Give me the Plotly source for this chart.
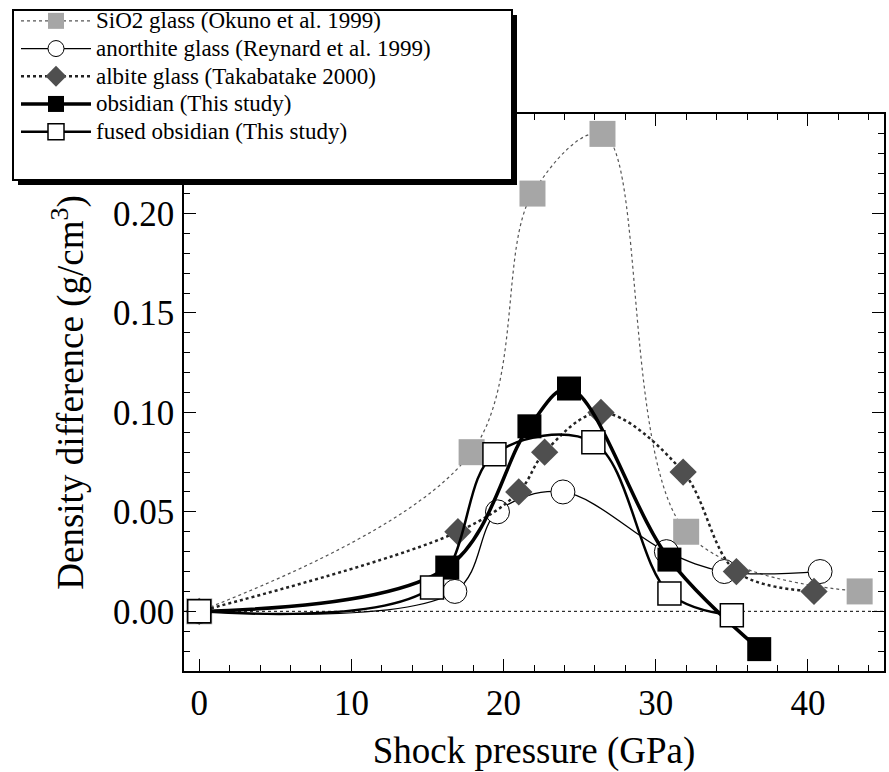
import plotly.graph_objects as go

# ---- data ----
sio2_x = [0, 17.9, 21.9, 26.5, 32.0, 43.4]
sio2_y = [0.0, 0.080, 0.210, 0.240, 0.040, 0.010]

anor_x = [0, 16.8, 19.6, 23.9, 30.7, 34.5, 40.8]
anor_y = [0.0, 0.010, 0.050, 0.060, 0.030, 0.020, 0.020]

albite_x = [0, 17.0, 21.0, 22.7, 26.4, 31.8, 35.3, 40.4]
albite_y = [0.0, 0.040, 0.060, 0.080, 0.100, 0.070, 0.020, 0.010]

obs_x = [0, 16.3, 21.7, 24.3, 30.9, 36.8]
obs_y = [0.0, 0.022, 0.093, 0.112, 0.026, -0.019]

fused_x = [0, 15.3, 19.4, 25.9, 30.9, 35.0]
fused_y = [0.0, 0.012, 0.079, 0.085, 0.009, -0.002]

names = ["SiO2 glass (Okuno et al. 1999)",
         "anorthite glass (Reynard et al. 1999)",
         "albite glass (Takabatake 2000)",
         "obsidian (This study)",
         "fused obsidian (This study)"]

FONT = "Liberation Serif, Times New Roman, serif"

# ---- figure geometry (pixels) ----
W, H = 889, 772
ML, MR, MT, MB = 184, 5, 114, 101
PW, PH = W - ML - MR, H - MT - MB


def px(xp):
    return (xp - ML) / PW


def py(yp):
    return (H - MB - yp) / PH


def lg(s):
    return '<span style="font-size:23px">' + s + '</span>'


fig = go.Figure()

fig.add_trace(go.Scatter(
    x=sio2_x, y=sio2_y, name=lg(names[0]), mode="lines+markers",
    line=dict(color="#555555", width=1.2, dash="dot", shape="spline", smoothing=1.0),
    marker=dict(symbol="square", size=26, color="#a6a6a6", line=dict(width=0))))

fig.add_trace(go.Scatter(
    x=anor_x, y=anor_y, name=lg(names[1]), mode="lines+markers",
    line=dict(color="black", width=1.3, shape="spline", smoothing=1.0),
    marker=dict(symbol="circle", size=24, color="white", line=dict(width=1, color="black"))))

fig.add_trace(go.Scatter(
    x=albite_x, y=albite_y, name=lg(names[2]), mode="lines+markers",
    line=dict(color="#222222", width=2.5, dash="dot", shape="spline", smoothing=1.0),
    marker=dict(symbol="diamond", size=21, color="#4f4f4f", line=dict(width=0))))

fig.add_trace(go.Scatter(
    x=obs_x, y=obs_y, name=lg(names[3]), mode="lines+markers",
    line=dict(color="black", width=3.5, shape="spline", smoothing=1.0),
    marker=dict(symbol="square", size=24, color="black", line=dict(width=0))))

fig.add_trace(go.Scatter(
    x=fused_x, y=fused_y, name=lg(names[4]), mode="lines+markers",
    line=dict(color="black", width=2.5, shape="spline", smoothing=1.0),
    marker=dict(symbol="square", size=23, color="white", line=dict(width=1.5, color="black"))))

# zero reference line (dotted)
shapes = [dict(type="line", xref="paper", yref="y", x0=0, x1=1, y0=0, y1=0,
               line=dict(color="black", width=1, dash="dot"), layer="below")]
# legend box with drop shadow
shapes.append(dict(type="rect", xref="paper", yref="paper",
                   x0=px(18), x1=px(517), y0=py(15), y1=py(185),
                   fillcolor="black", line=dict(width=0), layer="above"))
shapes.append(dict(type="rect", xref="paper", yref="paper",
                   x0=px(13), x1=px(512), y0=py(10), y1=py(180),
                   fillcolor="white", line=dict(color="black", width=2), layer="above"))

axis_common = dict(
    showline=True, linecolor="black", linewidth=1.5, mirror="ticks",
    ticks="inside", ticklen=12, tickwidth=1.2, tickcolor="black",
    showgrid=False, zeroline=False,
    tickfont=dict(family=FONT, size=35, color="black"),
)

fig.update_layout(
    width=W, height=H,
    margin=dict(l=ML, r=MR, t=MT, b=MB, autoexpand=False),
    paper_bgcolor="white", plot_bgcolor="white",
    font=dict(family=FONT, color="black"),
    showlegend=True,
    legend=dict(x=px(16), y=py(2), xanchor="left", yanchor="top",
                bgcolor="rgba(0,0,0,0)", borderwidth=0,
                font=dict(family=FONT, size=19, color="black"),
                itemwidth=70, itemsizing="trace", traceorder="normal"),
    shapes=shapes,
    xaxis=dict(axis_common, range=[-1, 45], dtick=10, tick0=0,
               minor=dict(dtick=2, ticks="inside", ticklen=6, tickcolor="black", tickwidth=1.2),
               title=dict(text="Shock pressure (GPa)", standoff=34,
                          font=dict(family=FONT, size=37, color="black"))),
    yaxis=dict(axis_common, range=[-0.03, 0.25], dtick=0.05, tick0=0, tickformat=".2f",
               minor=dict(dtick=0.01, ticks="inside", ticklen=6, tickcolor="black", tickwidth=1.2),
               ticklabelstandoff=1,
               title=dict(text="Density difference (g/cm<sup>3</sup>)", standoff=18,
                          font=dict(family=FONT, size=37, color="black"))),
)

fig.write_html("out.html")
